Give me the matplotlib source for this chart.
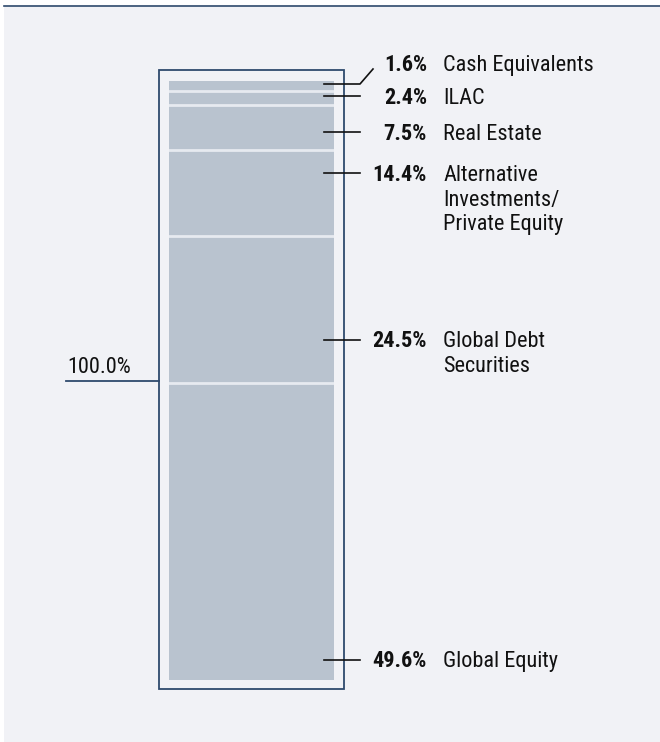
import matplotlib
matplotlib.use("Agg")
import matplotlib.pyplot as plt
from matplotlib import font_manager
from matplotlib.patches import Rectangle

# asset allocation, top of the stack first
categories = ["Cash Equivalents", "ILAC", "Real Estate",
              "Alternative\nInvestments/\nPrivate Equity",
              "Global Debt\nSecurities", "Global Equity"]
shares = [1.6, 2.4, 7.5, 14.4, 24.5, 49.6]
total_label = "100.0%"

# baseline of each label (pixels from top) and where its leader sits
label_base = [71, 103.5, 140, 181, 347, 667]
leader_y = [84, 96, 132, 173, 340, 660]

# prefer a narrow sans if one is installed
installed = sorted({f.name for f in font_manager.fontManager.ttflist})
family = None
for pref in ['Liberation Sans Narrow', 'Roboto Condensed', 'Noto Sans Condensed',
             'Open Sans Condensed', 'DejaVu Sans Condensed']:
    if pref in installed:
        family = pref
        break
if family is None:
    narrow = [n for n in installed if 'Narrow' in n or 'Condensed' in n]
    family = narrow[0] if narrow else 'Roboto'
plt.rcParams['font.family'] = [family, 'DejaVu Sans']

W, H = 660, 742
fig = plt.figure(figsize=(W / 100, H / 100), dpi=100, facecolor='white')

bg = '#f1f2f6'
navy = '#2f4a6d'
bar_col = '#b9c3cf'
sep_col = '#e6eaf0'
ink = '#111111'

# background layer in pixel units
ax_bg = fig.add_axes([0, 0, 1, 1], zorder=0)
ax_bg.set_xlim(0, W)
ax_bg.set_ylim(H, 0)
ax_bg.axis('off')
ax_bg.add_patch(Rectangle((4, 5), W - 4, H - 5, facecolor=bg, edgecolor='none'))
ax_bg.plot([4, W], [6, 6], color=navy, lw=1.2)
ax_bg.add_patch(Rectangle((159, 70), 185, 619, facecolor='none', edgecolor=navy, lw=1.3))

# stacked bar in percent units
bx0, bx1, by0, by1 = 169, 334, 81, 680
ax_bar = fig.add_axes([bx0 / W, 1 - by1 / H, (bx1 - bx0) / W, (by1 - by0) / H], zorder=1)
ax_bar.set_xlim(0, 1)
ax_bar.set_ylim(100, 0)
ax_bar.axis('off')
bottom = 0
for s in shares:
    ax_bar.bar(0.5, s, bottom=bottom, width=1, color=bar_col, edgecolor='none')
    bottom += s
cum = 0
for s in shares[:-1]:
    cum += s
    ax_bar.axhline(cum, color=sep_col, lw=2)

# labels and leaders on top
ax = fig.add_axes([0, 0, 1, 1], zorder=2)
ax.set_xlim(0, W)
ax.set_ylim(H, 0)
ax.axis('off')
ax.patch.set_alpha(0)

fs = 16
line_step = 24.7
for i, (cat, s) in enumerate(zip(categories, shares)):
    ly = leader_y[i]
    if i == 0:
        ax.plot([324, 360, 373], [ly, ly, 69], color=ink, lw=1.2)
    else:
        ax.plot([324, 360], [ly, ly], color=ink, lw=1.2)
    ax.text(427, label_base[i], f"{s:.1f}%", ha='right', va='baseline',
            fontsize=fs, fontweight='bold', color=ink)
    for j, line in enumerate(cat.split('\n')):
        ax.text(443, label_base[i] + j * line_step, line, ha='left', va='baseline',
                fontsize=fs, color=ink)

ax.text(67, 373, total_label, ha='left', va='baseline', fontsize=fs, color=ink)
ax.plot([66, 159], [381, 381], color=navy, lw=1.3)

fig.savefig('out.png', dpi=100, facecolor=fig.get_facecolor())
